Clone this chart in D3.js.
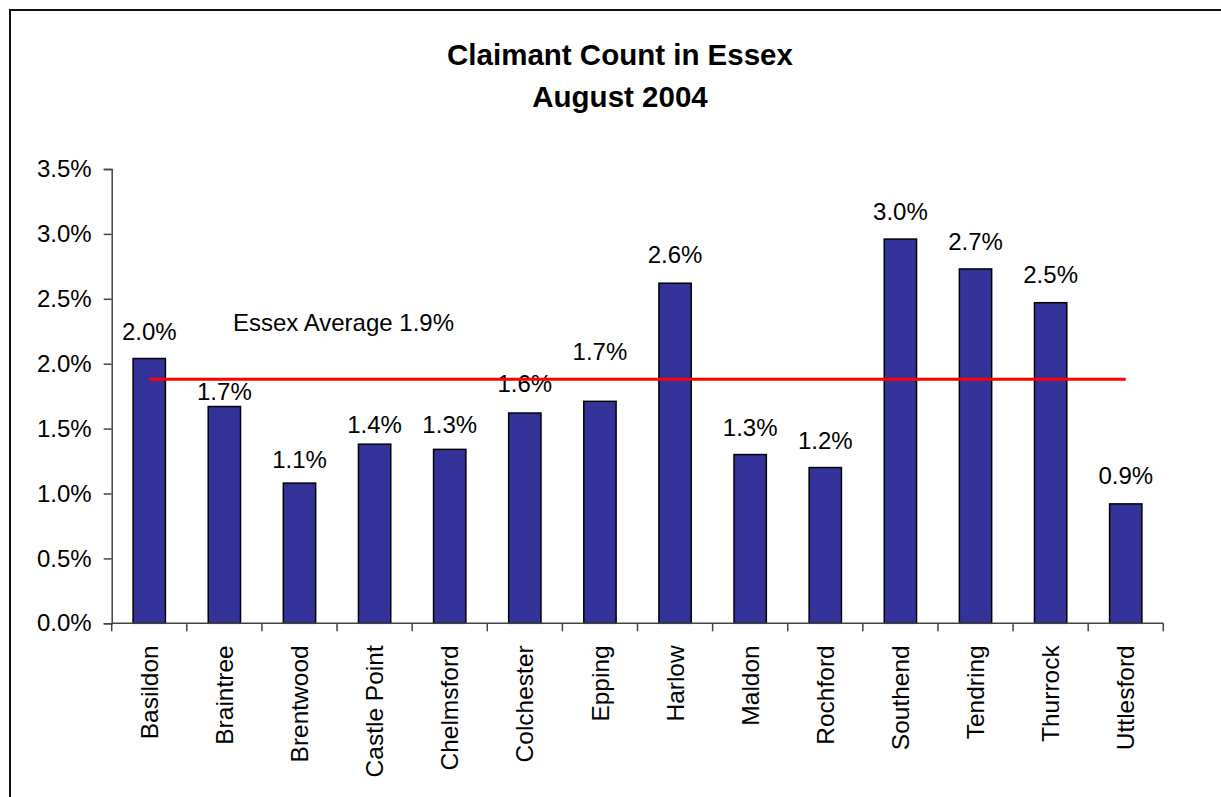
<!DOCTYPE html>
<html>
<head>
<meta charset="utf-8">
<script src="https://cdn.jsdelivr.net/npm/d3@7"></script>
<style>
  html, body { margin: 0; padding: 0; background: #fff; }
  svg { display: block; font-family: "Liberation Sans", Arial, sans-serif; }
</style>
</head>
<body>
<svg id="chart" width="1221" height="797"></svg>
<script>
const titleLines = ["Claimant Count in Essex", "August 2004"];
const categories = ["Basildon", "Braintree", "Brentwood", "Castle Point", "Chelmsford", "Colchester", "Epping", "Harlow", "Maldon", "Rochford", "Southend", "Tendring", "Thurrock", "Uttlesford"];
const values = [2.04, 1.67, 1.08, 1.38, 1.34, 1.62, 1.71, 2.62, 1.30, 1.20, 2.96, 2.73, 2.47, 0.92];
const essexAverage = 1.88;
const averageLabel = "Essex Average 1.9%";
const yTicks = [0, 0.5, 1.0, 1.5, 2.0, 2.5, 3.0, 3.5];
// manual label lifts (px above bar top) as placed in original
const labelLift = [19, 7, 15, 11, 16, 21, 41, 20, 19, 19, 19, 19, 20, 20];

const svg = d3.select("#chart");
const margin = { left: 111.7, right: 1221 - 1163.3, top: 169, bottom: 797 - 623.3 };
const W = 1221, H = 797;

// outer frame
svg.append("rect").attr("x", 10).attr("y", 10).attr("width", 1400).attr("height", 1000)
  .attr("fill", "none").attr("stroke", "#111").attr("stroke-width", 2);

const x = d3.scaleBand().domain(categories)
  .range([margin.left, W - margin.right])
  .paddingInner(0.57).paddingOuter(0.285);
const y = d3.scaleLinear().domain([0, 3.5]).range([H - margin.bottom, margin.top]);

// title
svg.append("text").attr("x", 620).attr("y", 0).attr("text-anchor", "middle")
  .attr("font-weight", "bold").attr("font-size", 29.5).attr("fill", "#000")
  .selectAll("tspan").data(titleLines).join("tspan")
  .attr("x", 620).attr("y", (d, i) => 65 + i * 42).text(d => d);

// y axis
const yAxis = d3.axisLeft(y).tickValues(yTicks).tickSize(8).tickPadding(12)
  .tickFormat(d => d3.format(".1f")(d) + "%");
const gy = svg.append("g").attr("transform", `translate(${margin.left},0)`).call(yAxis);
gy.select(".domain").attr("stroke", "#444").attr("stroke-width", 1.5);
gy.selectAll(".tick line").attr("stroke", "#444").attr("stroke-width", 1.5);
gy.selectAll(".tick text").attr("font-size", 24).attr("fill", "#000")
  .attr("font-family", "'Liberation Sans', Arial, sans-serif");

// bars
svg.append("g").selectAll("rect").data(categories).join("rect")
  .attr("x", d => x(d)).attr("width", x.bandwidth())
  .attr("y", (d, i) => y(values[i])).attr("height", (d, i) => y(0) - y(values[i]))
  .attr("fill", "#333399").attr("stroke", "#000").attr("stroke-width", 1.5);

// x axis
const bounds = categories.map(c => x(c) - x.step() * x.paddingInner() / 2);
bounds.push(W - margin.right);
const gx = svg.append("g");
gx.append("line").attr("x1", margin.left).attr("x2", W - margin.right)
  .attr("y1", y(0)).attr("y2", y(0)).attr("stroke", "#444").attr("stroke-width", 1.5);
gx.selectAll("line.tk").data(bounds).join("line").attr("class", "tk")
  .attr("x1", d => d).attr("x2", d => d).attr("y1", y(0)).attr("y2", y(0) + 8)
  .attr("stroke", "#444").attr("stroke-width", 1.5);
gx.selectAll("text").data(categories).join("text")
  .attr("transform", d => `translate(${x(d) + x.bandwidth() / 2},${y(0) + 22}) rotate(-90)`)
  .attr("text-anchor", "end").attr("dy", "0.35em")
  .attr("font-size", 24.5).attr("fill", "#000").text(d => d);

// value labels
const fmt = d => d3.format(".1f")(d) + "%";
svg.append("g").selectAll("text").data(categories).join("text")
  .attr("x", d => x(d) + x.bandwidth() / 2)
  .attr("y", (d, i) => y(values[i]) - labelLift[i])
  .attr("text-anchor", "middle").attr("font-size", 24).attr("fill", "#000")
  .text((d, i) => fmt(values[i]));

// average line
const first = categories[0], last = categories[categories.length - 1];
svg.append("line")
  .attr("x1", x(first) + x.bandwidth() / 2).attr("x2", x(last) + x.bandwidth() / 2)
  .attr("y1", y(essexAverage)).attr("y2", y(essexAverage))
  .attr("stroke", "#ff0000").attr("stroke-width", 3);

svg.append("text").attr("x", 233).attr("y", y(essexAverage) - 48)
  .attr("font-size", 24).attr("fill", "#000")
  .text(averageLabel);
</script>
</body>
</html>
